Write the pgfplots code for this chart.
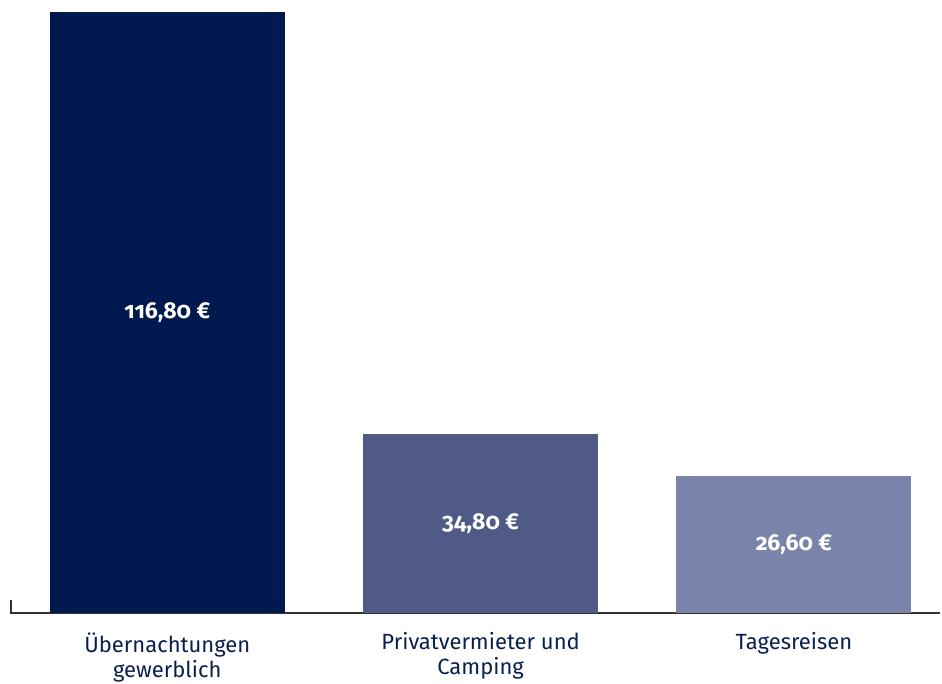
\documentclass[border=0pt]{standalone}
\usepackage{fontspec}
\setmainfont{Fira Sans}[Numbers=OldStyle]
\usepackage{pgfplots}
\pgfplotsset{compat=1.18}
\definecolor{navy}{HTML}{001A50}
\definecolor{mid}{HTML}{505A87}
\definecolor{light}{HTML}{7A84AB}
\definecolor{txt}{HTML}{0B1F4F}
\definecolor{axisgray}{HTML}{333333}
\begin{document}
\begin{tikzpicture}
\begin{axis}[
  scale only axis,
  width=930pt, height=601pt,
  xmin=-0.502, xmax=2.466,
  ymin=0, ymax=116.8,
  axis x line=bottom,
  axis y line=none,
  axis line style={axisgray, line width=1.5pt, -},
  xtick={0,1,2},
  xticklabels={{Übernachtungen\\gewerblich},{Privatvermieter und\\Camping},{Tagesreisen}},
  xticklabel style={align=center, font=\fontsize{22}{25}\selectfont, text=txt, yshift=-16pt},
  major tick length=0pt,
  ytick=\empty,
  clip=false,
]
\addplot[ybar, bar width=235pt, fill=navy, draw=none] coordinates {(0,116.8)};
\addplot[ybar, bar width=235pt, fill=mid, draw=none] coordinates {(1,34.8)};
\addplot[ybar, bar width=235pt, fill=light, draw=none] coordinates {(2,26.6)};
\addplot[draw=none, mark=none, nodes near coords, point meta=explicit symbolic,
  nodes near coords style={anchor=center, text=white, font=\fontsize{23}{26}\selectfont\bfseries}]
  table[meta=label, row sep=\\]{x y label\\ 0 58.4 {116,80 €}\\ 1 17.4 {34,80 €}\\ 2 13.3 {26,60 €}\\};
\end{axis}
\draw[axisgray, line width=1.5pt] ([xshift=0.75pt]current axis.south west) -- ++(0,13pt);
\pgfresetboundingbox
\path ([shift={(-10pt,-70pt)}]current axis.south west) rectangle ++(942pt,683pt);
\end{tikzpicture}
\end{document}
